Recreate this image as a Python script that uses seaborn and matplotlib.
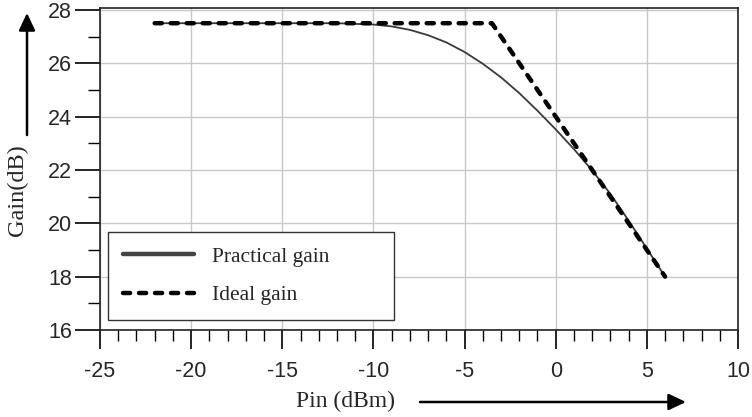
import numpy as np
import pandas as pd
import seaborn as sns
import matplotlib.pyplot as plt
from matplotlib.ticker import MultipleLocator
from matplotlib.patches import FancyArrowPatch

# data
pin_practical = [-22, -12, -10, -9, -8, -7, -6, -5, -4, -3, -2, -1, 0, 1, 2, 3, 4, 5, 6]
gain_practical = [27.5, 27.5, 27.45, 27.38, 27.25, 27.05, 26.78, 26.42, 25.98, 25.47,
                  24.88, 24.22, 23.52, 22.78, 21.98, 21.1, 20.1, 19.05, 18.0]
pin_ideal = [-22, -3.5, 6]
gain_ideal = [27.5, 27.5, 18.0]

sns.set_style("white")
plt.rcParams['font.family'] = ['Liberation Sans', 'DejaVu Sans']
plt.rcParams['axes.unicode_minus'] = False

df_p = pd.DataFrame({'pin': pin_practical, 'gain': gain_practical})
df_i = pd.DataFrame({'pin': pin_ideal, 'gain': gain_ideal})

fig = plt.figure(figsize=(7.52, 4.17), dpi=100)
ax = fig.add_axes([100 / 752, 1 - 330 / 417, 638 / 752, 322 / 417])

sns.lineplot(data=df_p, x='pin', y='gain', ax=ax, color='#3a3a3a', linewidth=1.3,
             label='Practical gain')
sns.lineplot(data=df_i, x='pin', y='gain', ax=ax, color='black', linewidth=3.2,
             label='Ideal gain')
ideal = ax.lines[1]
ideal.set_dashes((1.6, 2.0))
ideal.set_dash_capstyle('round')
ideal.set_dash_joinstyle('round')

ax.set_xlim(-25, 10)
ax.set_ylim(16, 28.07)
ax.xaxis.set_major_locator(MultipleLocator(5))
ax.xaxis.set_minor_locator(MultipleLocator(1))
ax.yaxis.set_major_locator(MultipleLocator(2))
ax.yaxis.set_minor_locator(MultipleLocator(1))
ax.grid(True, which='major', color='#c8c8c8', linewidth=1.0)
ax.set_axisbelow(True)

ax.tick_params(which='both', direction='out', color='black', labelsize=15.5,
               bottom=True, left=True)
ax.tick_params(axis='x', which='major', length=14, width=1.2, pad=8)
ax.tick_params(axis='x', which='minor', length=8, width=1.0)
ax.tick_params(axis='y', which='major', length=18, width=1.2, pad=2)
ax.tick_params(axis='y', which='minor', length=8.5, width=1.0)
for s in ax.spines.values():
    s.set_color('#222222')
    s.set_linewidth(1.2)

ax.set_xlabel('')
ax.set_ylabel('')

leg = ax.legend(loc='lower left', bbox_to_anchor=(0.0125, 0.031, 0.448, 0.2),
                mode='expand', borderaxespad=0, fancybox=False, frameon=True,
                prop={'family': 'Liberation Serif', 'size': 15.5},
                handlelength=3.3, handletextpad=0.85, labelspacing=0.85, borderpad=0.68)
leg.get_frame().set_edgecolor('#333333')
leg.get_frame().set_linewidth(1.0)
leg.get_frame().set_alpha(1)
hl = leg.get_lines()
hl[0].set_linewidth(3.2)
hl[0].set_color('#444444')
hl[1].set_linewidth(3.2)

# axis titles with arrows
fig.text(346 / 752, 1 - 401 / 417, 'Pin (dBm)', family='Liberation Serif', fontsize=17,
         ha='center', va='center')
fig.text(17 / 752, 1 - 190 / 417, 'Gain(dB)', family='Liberation Serif', fontsize=17.5,
         ha='center', va='center', rotation=90)
fig.add_artist(FancyArrowPatch(
    (420 / 752, 1 - 402 / 417), (686 / 752, 1 - 402 / 417), transform=fig.transFigure,
    arrowstyle='-|>,head_length=7,head_width=3.3', color='black', linewidth=1.8,
    shrinkA=0, shrinkB=0, mutation_scale=1.5))
fig.add_artist(FancyArrowPatch(
    (27 / 752, 1 - 135 / 417), (27 / 752, 1 - 13 / 417), transform=fig.transFigure,
    arrowstyle='-|>,head_length=7,head_width=3.3', color='black', linewidth=1.8,
    shrinkA=0, shrinkB=0, mutation_scale=1.5))

fig.savefig('out.png', dpi=100)
